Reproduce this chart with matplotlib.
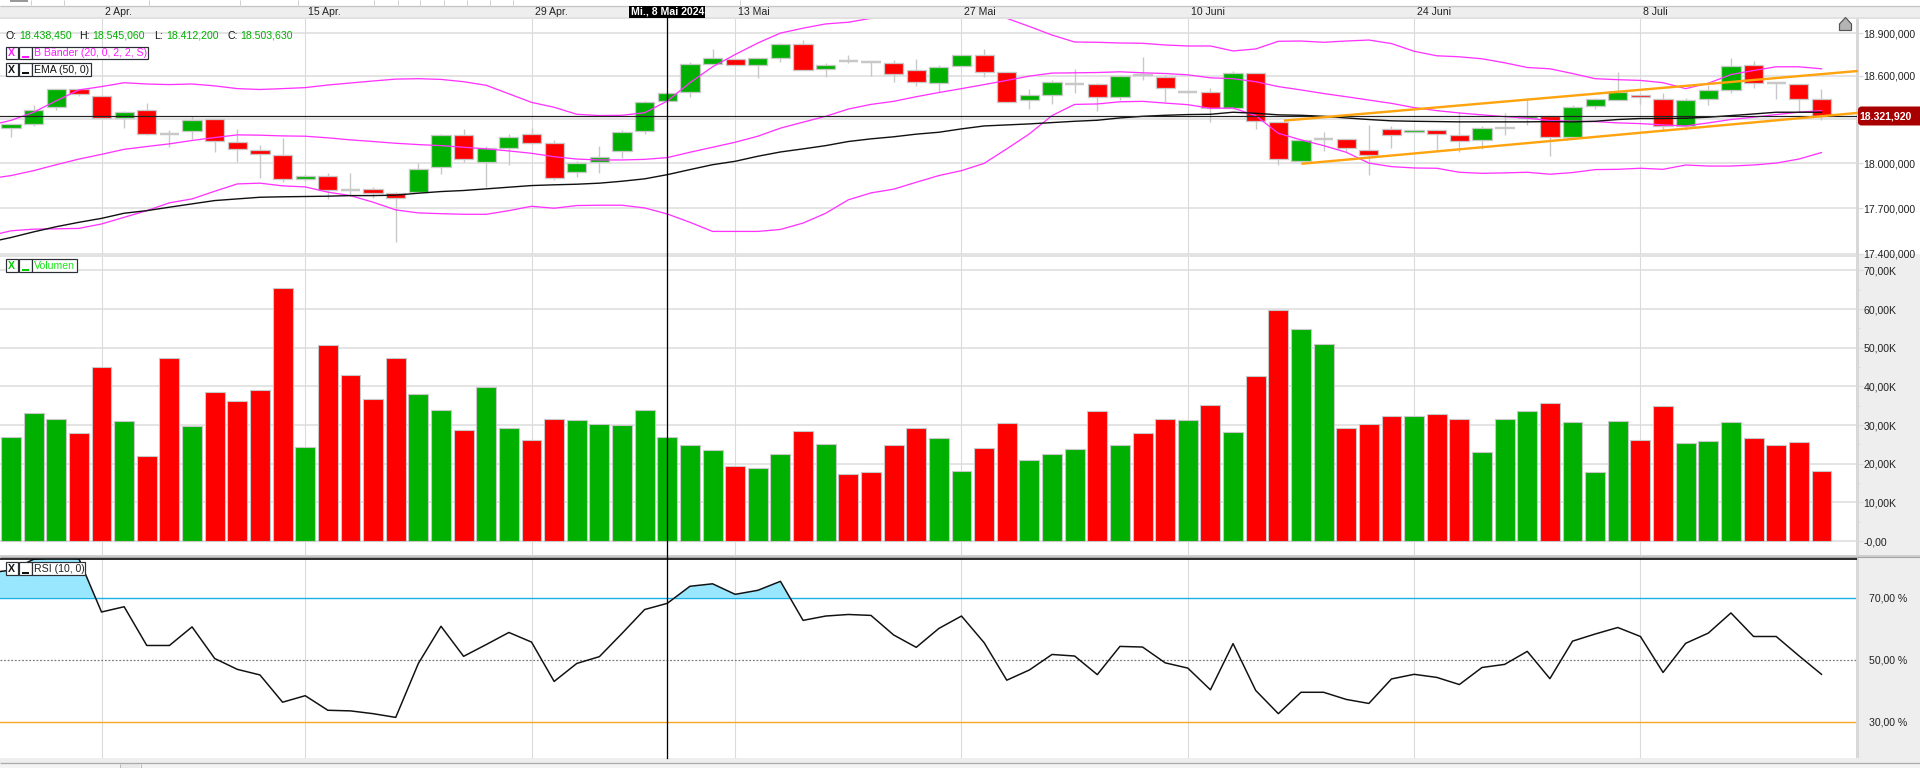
import matplotlib
matplotlib.use("Agg")
import matplotlib.pyplot as plt
import matplotlib.transforms as mtrans
from matplotlib.patches import Rectangle, Polygon, FancyBboxPatch
from matplotlib.ticker import FixedLocator, NullLocator, NullFormatter, FixedFormatter

plt.rcParams['font.family'] = ['Liberation Sans', 'DejaVu Sans']

opens = [18239,18266,18382,18505,18461,18309,18366,18202,18220,18305,18148,18093,18059,17893,17918,17824,17827,17798,17809,17973,
         18195,18007,18102,18202,18141,17940,18007,18082,18218,18425,18491,18684,18716,18677,18726,18821,18649,18702,18695,18691,
         18640,18552,18670,18744,18626,18430,18470,18541,18543,18450,18612,18591,18486,18489,18377,18619,18284,18014,18168,18168,
         18093,18236,18214,18223,18195,18159,18243,18307,18323,18180,18389,18430,18464,18441,18254,18439,18500,18675,18550,18543,18441]
highs = [18266,18398,18511,18511,18461,18359,18411,18229,18320,18305,18234,18125,18173,17929,17936,17936,17840,17811,18002,18202,
         18234,18120,18202,18239,18155,18016,18120,18229,18427,18482,18695,18788,18716,18723,18830,18853,18686,18749,18695,18712,
         18714,18672,18744,18791,18626,18507,18568,18649,18552,18607,18735,18603,18490,18518,18633,18619,18284,18166,18216,18168,
         18261,18257,18225,18227,18348,18257,18341,18443,18325,18398,18443,18626,18473,18480,18443,18534,18728,18700,18550,18543,18507]
lows = [18182,18257,18366,18461,18307,18243,18193,18109,18166,18079,18007,17902,17878,17884,17762,17784,17769,17478,17807,17929,
        18007,17840,17989,18132,17891,17911,17938,18034,18200,18420,18452,18681,18677,18582,18695,18642,18589,18691,18602,18557,
        18527,18486,18670,18589,18416,18368,18405,18480,18359,18434,18568,18416,18480,18282,18370,18234,17989,18014,18086,18079,
        17924,18107,18212,18091,18075,18100,18193,18261,18050,18180,18370,18430,18405,18229,18223,18398,18482,18516,18439,18352,18298]
closes = [18266,18366,18505,18477,18311,18352,18198,18202,18298,18150,18095,18061,17893,17918,17822,17824,17800,17767,17964,18189,
          18027,18107,18182,18136,17900,18005,18045,18216,18420,18482,18681,18723,18677,18723,18823,18642,18677,18702,18695,18614,
          18559,18660,18744,18628,18416,18468,18557,18541,18450,18598,18603,18518,18486,18375,18619,18286,18027,18161,18168,18104,
          18057,18193,18223,18200,18152,18243,18250,18320,18180,18386,18436,18491,18455,18257,18434,18502,18668,18548,18550,18439,18322]

# indicator series begin one session before the first visible candle
boll_upper = [18257,18292,18348,18427,18502,18525,18552,18543,18539,18543,18530,18511,18505,18511,18518,18536,18550,18564,18577,18580,18575,
              18559,18534,18475,18416,18382,18334,18325,18327,18345,18425,18552,18663,18749,18830,18900,18935,18965,18977,19005,19028,
              19040,19051,19051,19028,19005,18947,18886,18837,18835,18830,18828,18816,18809,18809,18774,18788,18842,18844,18835,18844,
              18851,18826,18772,18740,18733,18719,18691,18658,18649,18616,18580,18573,18568,18552,18511,18548,18609,18637,18663,18663,18649]
boll_mid = [17896,17918,17951,17991,18029,18061,18095,18114,18132,18155,18175,18193,18191,18186,18184,18173,18159,18148,18136,18127,18120,
            18109,18098,18084,18068,18045,18029,18023,18023,18027,18039,18075,18109,18143,18184,18239,18280,18320,18370,18402,18423,
            18455,18484,18511,18539,18568,18598,18619,18621,18623,18628,18621,18616,18607,18586,18580,18559,18525,18502,18477,18455,
            18432,18409,18380,18359,18343,18330,18318,18307,18291,18286,18284,18275,18270,18261,18254,18275,18298,18314,18332,18348,18359]
boll_lower = [17516,17551,17562,17564,17567,17596,17640,17684,17736,17762,17813,17862,17867,17849,17842,17807,17784,17740,17689,17669,17664,
              17660,17660,17684,17713,17700,17718,17720,17720,17702,17662,17607,17547,17547,17547,17560,17602,17667,17756,17802,17827,
              17873,17918,17951,18000,18098,18200,18325,18402,18405,18420,18423,18411,18400,18375,18377,18325,18204,18159,18120,18075,
              18002,17978,17969,17967,17940,17933,17936,17940,17927,17938,17958,17960,17967,17960,17989,17982,17982,17989,18002,18029,18073]
ema50 = [17475,17507,17544,17578,17607,17633,17667,17684,17707,17729,17751,17762,17773,17776,17778,17780,17784,17784,17787,17800,17811,
         17818,17829,17840,17851,17856,17860,17867,17880,17896,17924,17958,17991,18014,18048,18077,18098,18120,18148,18166,18180,
         18198,18211,18234,18254,18261,18268,18277,18286,18293,18309,18320,18327,18332,18334,18348,18341,18330,18327,18320,18309,
         18298,18289,18286,18284,18282,18282,18282,18282,18284,18282,18286,18298,18305,18305,18307,18314,18325,18336,18348,18348,18348]
rsi = [78.0,78.9,82.4,83.0,82.6,65.4,67.1,54.6,54.6,60.6,50.4,46.9,45.1,36.3,38.4,33.7,33.5,32.6,31.4,48.8,60.8,
       51.1,54.9,58.8,55.7,43.0,48.8,51.0,58.5,66.2,68.2,73.7,74.5,71.1,72.4,75.3,62.7,64.1,64.6,64.3,58.0,
       54.0,60.1,64.1,55.5,43.4,46.7,51.7,51.2,45.2,54.3,54.1,49.0,47.3,40.3,55.2,40.1,32.6,39.5,39.5,37.2,
       35.9,43.8,45.3,44.3,42.0,47.5,48.5,52.7,43.9,56.0,58.3,60.4,57.5,45.9,55.3,58.6,65.1,57.5,57.5,51.3,45.3]

volumes = [27.0,33.2,31.6,28.0,45.1,31.1,22.1,47.2,29.8,38.6,36.3,39.1,65.5,24.4,50.8,43.0,36.6,47.2,38.1,34.0,
           28.8,39.9,29.1,26.2,31.6,31.4,30.3,30.1,34.0,27.0,24.7,23.6,19.5,19.0,22.6,28.5,25.2,17.4,17.9,24.9,
           29.1,26.7,18.2,24.1,30.6,21.0,22.6,23.9,33.7,24.7,28.0,31.6,31.4,35.3,28.3,42.8,59.8,54.9,51.0,29.3,
           30.3,32.2,32.4,32.9,31.6,23.1,31.6,33.7,35.8,30.9,17.9,31.1,26.2,35.0,25.4,25.9,30.9,26.7,24.7,25.7,18.2]
volume_dirs = list("gggrrgrrgrrrrgrrrrggrggrrgggggggrggrgrrrrggrrgggrgrrgrgrrggrrrgrrgggrgggrrgggrrrr")

date_ticks = [4, 13, 23, 32, 42, 52, 62, 72]
date_labels = ["2 Apr.", "15 Apr.", "29 Apr.", "13 Mai", "27 Mai", "10 Juni", "24 Juni", "8 Juli"]
price_ticks = [17400, 17700, 18000, 18300, 18600, 18900]
price_tick_labels = ["17.400,000", "17.700,000", "18.000,000", "", "18.600,000", "18.900,000"]
volume_ticks = [0, 10, 20, 30, 40, 50, 60, 70]
volume_tick_labels = ["-0,00", "10,00K", "20,00K", "30,00K", "40,00K", "50,00K", "60,00K", "70,00K"]
rsi_ticks = [30, 50, 70]
rsi_tick_labels = ["30,00 %", "50,00 %", "70,00 %"]
trend_upper_x, trend_upper_y = [56.3, 81.56], [18291, 18633]
trend_lower_x, trend_lower_y = [57.07, 81.56], [17998, 18343]
last_price = 18321.92
cross_idx = 29

W, H = 1920, 768
px = 0.72   # one pixel in points at dpi 100
GREEN, RED = "#00B000", "#FF0000"
MAGENTA = "#FF33FF"
GRID = "#DCDCDC"
EDGE = "#C8C8C8"
PANEL_GRAY = "#EEEEEE"
TXT = "#222222"
FS = 10.5 * px

fig = plt.figure(figsize=(19.2, 7.68), dpi=100, facecolor="white")


def panel(x0, y0, x1, y1):
    return fig.add_axes([x0 / W, 1 - y1 / H, (x1 - x0) / W, (y1 - y0) / H])


AX_R = 1857
xlim = (-0.486, 81.57)
ax_p = panel(0, 18.3, AX_R, 254.5)
ax_v = panel(0, 257, AX_R, 555)
ax_r = panel(0, 559, AX_R, 758)

# underlying grey strips to the right of the lower panels
bg = fig.add_axes([0, 0, 1, 1], zorder=-1)
bg.set_xlim(0, W); bg.set_ylim(H, 0); bg.axis("off")
bg.add_patch(Rectangle((AX_R, 254), W - AX_R, 510, fc=PANEL_GRAY, ec="none"))

xs = list(range(len(closes)))
line_xs = [-1] + xs
for ax in (ax_p, ax_v, ax_r):
    ax.set_xlim(*xlim)
    ax.set_xticks(date_ticks)
    ax.tick_params(axis="x", length=0, labelbottom=False)
    ax.grid(True, axis="y", color=GRID, lw=1.5 * px, zorder=0)
    ax.grid(True, axis="x", color="#DADADA", lw=1.1 * px, zorder=0)
    ax.set_axisbelow(True)
    for s in ("top", "left", "bottom"):
        ax.spines[s].set_visible(False)
    ax.spines["right"].set_color("#D8D8D8")
    ax.spines["right"].set_linewidth(3 * px)
    ax.yaxis.tick_right()

# ---- price panel
ax_p.set_yscale("log")
ax_p.set_ylim(17396, 19005)
ax_p.yaxis.set_major_locator(FixedLocator(price_ticks))
ax_p.yaxis.set_major_formatter(FixedFormatter(price_tick_labels))
ax_p.yaxis.set_minor_locator(NullLocator())
ax_p.yaxis.set_minor_formatter(NullFormatter())
ax_p.tick_params(axis="y", length=4, width=1.2 * px, color=GRID, labelsize=FS, labelcolor=TXT, pad=0.5)

ax_p.vlines(xs, lows, highs, color=EDGE, lw=1.4 * px, zorder=2)
for i in xs:
    o, c = opens[i], closes[i]
    if o == c:
        col, lw = EDGE, 2.5 * px
    else:
        col, lw = (GREEN if c > o else RED), 1.3 * px
    ax_p.bar(i, abs(c - o), bottom=min(o, c), width=0.85, color=col,
             edgecolor=EDGE, linewidth=lw, zorder=3)

for series in (boll_upper, boll_mid, boll_lower):
    ax_p.plot(line_xs, series, color=MAGENTA, lw=1.3 * px, zorder=4)
ax_p.plot(line_xs, ema50, color="#111111", lw=1.4 * px, zorder=4)
ax_p.axhline(last_price, color="#222222", lw=1.2 * px, zorder=5)
ax_p.plot(trend_upper_x, trend_upper_y, color="#FFA30F", lw=2.4 * px, zorder=6, clip_on=False)
ax_p.plot(trend_lower_x, trend_lower_y, color="#FFA30F", lw=2.4 * px, zorder=6, clip_on=False)

# ---- volume panel
ax_v.set_ylim(-3.62, 73.45)
ax_v.set_yticks(volume_ticks)
ax_v.set_yticklabels(volume_tick_labels)
ax_v.set_yticks([5, 15, 25, 35, 45, 55, 65], minor=True)
ax_v.tick_params(axis="y", which="major", length=4, width=1.2 * px, color=GRID, labelsize=FS, labelcolor=TXT, pad=0.5)
ax_v.tick_params(axis="y", which="minor", length=2, width=1 * px, color=GRID)
for i in xs:
    ax_v.bar(i, volumes[i], width=0.88, color=GREEN if volume_dirs[i] == "g" else RED,
             edgecolor=EDGE, linewidth=1.1 * px, zorder=3)

# ---- RSI panel
ax_r.set_ylim(18.3, 82.5)
ax_r.set_yticks(rsi_ticks)
ax_r.set_yticklabels(rsi_tick_labels)
ax_r.tick_params(axis="y", length=0, labelsize=FS, labelcolor=TXT, pad=8.5)
ax_r.grid(False, axis="y")
ax_r.axhline(70, color="#1AB2E6", lw=1.4 * px, zorder=2)
ax_r.axhline(30, color="#F5A623", lw=1.4 * px, zorder=2)
ax_r.axhline(50, color="#777777", lw=1.2 * px, ls=(0, (1.5, 1.5)), zorder=2)
ax_r.fill_between(line_xs, 70, rsi, where=[v > 70 for v in rsi], interpolate=True,
                  color="#99E6FF", lw=0, zorder=1)
ax_r.plot(line_xs, rsi, color="#111111", lw=1.5 * px, zorder=4)

# ---- overlay chrome
ov = fig.add_axes([0, 0, 1, 1], zorder=10)
ov.set_xlim(0, W); ov.set_ylim(H, 0); ov.axis("off"); ov.patch.set_alpha(0)
idx_tf = mtrans.blended_transform_factory(ax_p.transData, ov.transData)


def rect(x, y, w, h, fc, ec="none", lw=0, z=1):
    ov.add_patch(Rectangle((x, y), w, h, fc=fc, ec=ec, lw=lw * px, zorder=z))


def hline(y, x0, x1, c, lw=1.0):
    ov.plot([x0, x1], [y, y], color=c, lw=lw * px, solid_capstyle="butt", zorder=2)


def vline(x, y0, y1, c, lw=1.0):
    ov.plot([x, x], [y0, y1], color=c, lw=lw * px, solid_capstyle="butt", zorder=2)


# top strip and date band
rect(0, 5.5, W, 13, PANEL_GRAY)
hline(5.5, 0, W, "#C4C4C4", 1.3)
hline(18.3, 0, W, "#DEDEDE", 1.5)
for x in (31, 64, 149, 240, 298, 374, 398, 420, 444, 467, 490, 513, 740):
    vline(x, 0, 5, "#D0D0D0")
rect(10, 0, 18, 1.5, "#999999")

# separators
rect(0, 254.5, AX_R, 2.5, "#E2E2E2")
rect(0, 555, AX_R + 63, 2.2, "#D0D0D0")
hline(556.6, 0, W, "#A8A8A8", 1.2)
hline(559, 0, AX_R, "#000000", 1.6)
rect(0, 758, AX_R + 63, 5, PANEL_GRAY)
hline(763.3, 0, W, "#ABABAB", 1.3)
rect(0, 764, W, 4, "#F4F4F4")
vline(119.5, 764, 768, "#BBBBBB")
vline(140.5, 764, 768, "#BBBBBB")
rect(120, 764, 20, 4, "#EAEAEA")

# date labels, placed just right of their grid lines
date_off = mtrans.offset_copy(idx_tf, fig=fig, x=3, y=0, units="dots")
for t, lab in zip(date_ticks, date_labels):
    ov.text(t, 11.8, lab, transform=date_off, ha="left", va="center", fontsize=FS, color=TXT, zorder=4)

# crosshair through all panels
ov.plot([cross_idx, cross_idx], [15, 758], color="#000000", lw=1.3 * px, transform=idx_tf, zorder=5)
ov.text(cross_idx, 11.8, "Mi., 8 Mai 2024", transform=idx_tf, ha="center", va="center", fontsize=FS,
        color="white", fontweight="bold", zorder=7,
        bbox=dict(boxstyle="square,pad=0.12", fc="black", ec="none"))

# OHLC readout
x_pos = [5.5, 19, 79, 92.7, 154, 166.7, 227, 240.7]
parts = [("O:", "#111111"), ("18.438,450", GREEN), ("H:", "#111111"), ("18.545,060", GREEN),
         ("L:", "#111111"), ("18.412,200", GREEN), ("C:", "#111111"), ("18.503,630", GREEN)]
for x, (t, c) in zip(x_pos, parts):
    ov.text(x, 35.7, t, fontsize=FS, color=c, ha="left", va="center", zorder=7)


def legend_row(y, h, lab_end, label, color, tick_color=None):
    tick_color = tick_color or color
    ec = "#2B2F36"
    ov.add_patch(Rectangle((5.7, y), 12, h, fc="white", ec=ec, lw=1.2 * px, zorder=6))
    ov.add_patch(Rectangle((19.3, y), 12.2, h, fc="white", ec=ec, lw=1.2 * px, zorder=6))
    ov.add_patch(Rectangle((32, y), lab_end - 32, h, fc="white", ec=ec, lw=1.2 * px, zorder=6))
    ov.text(11.7, y + h / 2, "X", color=tick_color, fontsize=FS, fontweight="bold", ha="center", va="center", zorder=7)
    ov.plot([22, 29], [y + h - 2.5, y + h - 2.5], color=tick_color, lw=2 * px, solid_capstyle="butt", zorder=7)
    ov.text(33.5, y + h / 2, label, color=color, fontsize=FS, ha="left", va="center", zorder=7)


legend_row(46.7, 12.6, 148, "B Bänder (20, 0, 2, 2, S)", "#FF19FF")
legend_row(63.3, 12.6, 90.6, "EMA (50, 0)", "#111111")
legend_row(259.3, 13, 76.5, "Volumen", "#19E619", "#00D000")
legend_row(562, 13, 84.5, "RSI (10, 0)", "#222222", "#111111")

# last price tag and up marker
ov.add_patch(FancyBboxPatch((1858.5, 107), W - 1858.5 + 4, 18, boxstyle="round,pad=0,rounding_size=3",
                            fc="#A80000", ec="#A80000", lw=px, zorder=6))
ov.text(1859.5, 116.3, "18.321,920", color="white", fontsize=FS, fontweight="bold", ha="left", va="center", zorder=7)
ov.add_patch(Polygon([(1839.5, 30.5), (1839.5, 24), (1845.5, 17.5), (1851.5, 24), (1851.5, 30.5)], closed=True,
                     fc="#B4B4B4", ec="#555555", lw=1.2 * px, zorder=6))

fig.savefig("out.png", dpi=100, facecolor="white")
